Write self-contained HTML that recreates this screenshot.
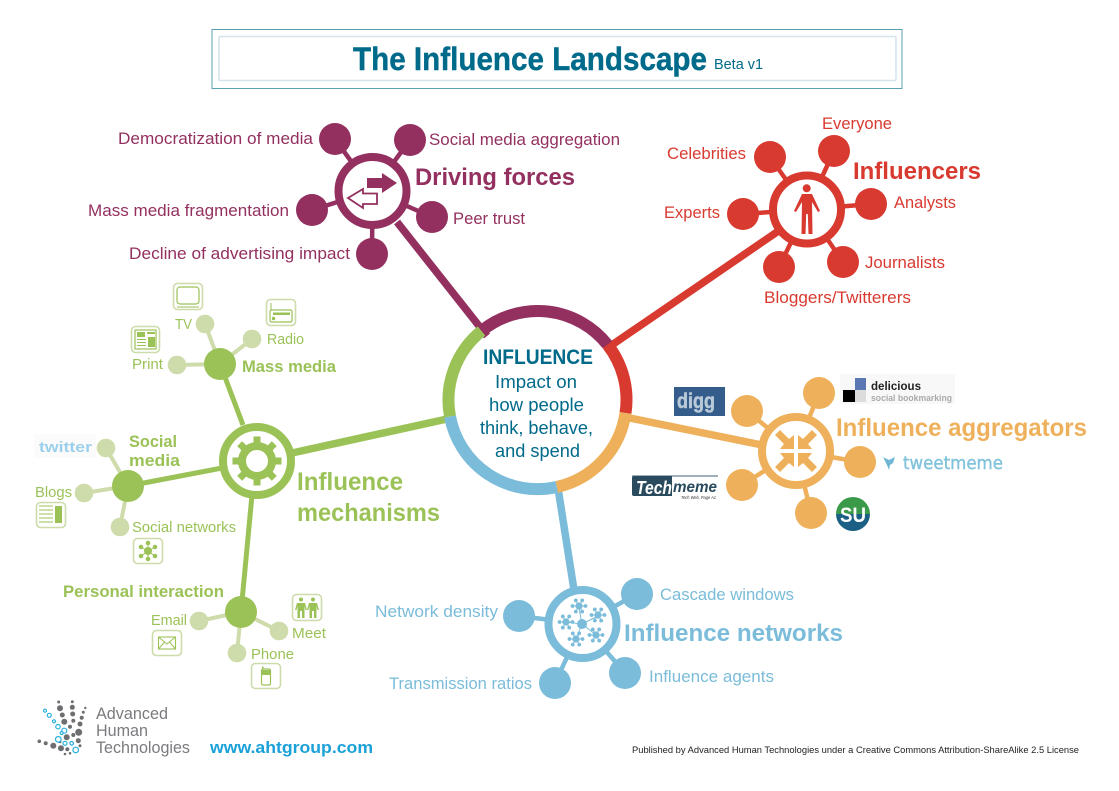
<!DOCTYPE html>
<html><head><meta charset="utf-8"><title>The Influence Landscape</title>
<style>
html,body{margin:0;padding:0;background:#fff}
svg{display:block}
text{font-family:"Liberation Sans",sans-serif;}
.b{font-weight:bold}
.p{fill:#93305f}.r{fill:#d83a30}.o{fill:#eeb05a}.u{fill:#7abcd9}.g{fill:#9bc257}.t{fill:#006a8a}
.ic{fill:#fff;stroke:#cddcaa;stroke-width:1.6}
</style></head><body>
<svg width="1119" height="791" viewBox="0 0 1119 791" xmlns="http://www.w3.org/2000/svg">
<defs>
<g id="cl" fill="#7abcd9"><circle r="3.6"/><circle cx="6.5" r="1.9"/><circle cx="3.2" cy="5.6" r="1.9"/><circle cx="-3.2" cy="5.6" r="1.9"/><circle cx="-6.5" r="1.9"/><circle cx="-3.2" cy="-5.6" r="1.9"/><circle cx="3.2" cy="-5.6" r="1.9"/><path d="M-6 0H6M-3 -5L3 5M3 -5L-3 5" stroke="#7abcd9" stroke-width="1"/></g>
<polygon id="ar" points="-2,-2 -2,-16 -7,-12 -16,-21 -21,-16 -12,-7 -16,-2" fill="#eeb05a"/>
<rect id="tooth" x="-3.5" y="-24.5" width="7" height="8" fill="#9bc257"/>
</defs>

<!-- title frame -->
<rect x="212" y="29.5" width="690" height="59" fill="#fff" stroke="#5b9fb5" stroke-width="1"/>
<rect x="219" y="36.5" width="677" height="44" rx="1" fill="#fff" stroke="#d3e4ec" stroke-width="1.5"/>
<text x="353" y="70" class="b t" font-size="32" stroke="#006a8a" stroke-width="0.4" textLength="354" lengthAdjust="spacingAndGlyphs">The Influence Landscape</text>
<text x="714" y="69" class="t" font-size="14.5" textLength="49" lengthAdjust="spacingAndGlyphs">Beta v1</text>

<!-- connectors -->
<g fill="none" stroke-width="7.5">
<line x1="397" y1="222" x2="487" y2="336" stroke="#93305f"/>
<line x1="777" y1="232" x2="606" y2="349" stroke="#d83a30"/>
<line x1="620" y1="416" x2="762" y2="445" stroke="#eeb05a"/>
<line x1="558" y1="488" x2="574" y2="590" stroke="#7abcd9"/>
<line x1="447" y1="419" x2="292" y2="453" stroke="#9bc257"/>
</g>

<!-- centre ring -->
<g fill="none" stroke-width="12">
<path d="M481.5 331 A89 89 0 0 1 607.5 344.7" stroke="#93305f"/>
<path d="M607.5 344.7 A89 89 0 0 1 625.5 413" stroke="#d83a30"/>
<path d="M625.5 413 A89 89 0 0 1 556.8 487" stroke="#eeb05a"/>
<path d="M556.8 487 A89 89 0 0 1 450 416.5" stroke="#7abcd9"/>
<path d="M450 416.5 A89 89 0 0 1 481.5 331" stroke="#9bc257"/>
</g>
<text x="483" y="364" class="b t" font-size="21" textLength="110" lengthAdjust="spacingAndGlyphs">INFLUENCE</text>
<g class="t" font-size="18">
<text x="495" y="388" class="t" textLength="82" lengthAdjust="spacingAndGlyphs">Impact on</text>
<text x="489" y="411" class="t" textLength="95" lengthAdjust="spacingAndGlyphs">how people</text>
<text x="480" y="434" class="t" textLength="113" lengthAdjust="spacingAndGlyphs">think, behave,</text>
<text x="495" y="457" class="t" textLength="85" lengthAdjust="spacingAndGlyphs">and spend</text>
</g>

<!-- Driving forces -->
<g stroke="#93305f" stroke-width="4.5">
<line x1="372.5" y1="191" x2="335" y2="139"/><line x1="372.5" y1="191" x2="410" y2="140"/><line x1="372.5" y1="191" x2="312" y2="210"/><line x1="372.5" y1="191" x2="432" y2="217"/><line x1="372.5" y1="191" x2="372" y2="254"/>
</g>
<circle cx="372.5" cy="191" r="34" fill="#fff" stroke="#93305f" stroke-width="8"/>
<g fill="#93305f"><circle cx="335" cy="139" r="16"/><circle cx="410" cy="140" r="16"/><circle cx="312" cy="210" r="16"/><circle cx="432" cy="217" r="16"/><circle cx="372" cy="254" r="16"/></g>
<polygon points="367,178 382,178 382,173 397,183 382,193 382,188 367,188" fill="#93305f"/>
<polygon points="348,198 363,189 363,193.5 377,193.5 377,204 363,204 363,208" fill="#fff" stroke="#93305f" stroke-width="1.8"/>
<g class="p" font-size="17">
<text class="p" x="118" y="144" textLength="195" lengthAdjust="spacingAndGlyphs">Democratization of media</text>
<text class="p" x="429" y="145" textLength="191" lengthAdjust="spacingAndGlyphs">Social media aggregation</text>
<text class="p" x="453" y="224" textLength="72" lengthAdjust="spacingAndGlyphs">Peer trust</text>
<text class="p" x="88" y="216" textLength="201" lengthAdjust="spacingAndGlyphs">Mass media fragmentation</text>
<text class="p" x="129" y="259" textLength="221" lengthAdjust="spacingAndGlyphs">Decline of advertising impact</text>
</g>
<text x="415" y="185" class="b p" font-size="24" textLength="160" lengthAdjust="spacingAndGlyphs">Driving forces</text>

<!-- Influencers -->
<g stroke="#d83a30" stroke-width="4.5">
<line x1="807" y1="209.5" x2="770" y2="157"/><line x1="807" y1="209.5" x2="834" y2="151"/><line x1="807" y1="209.5" x2="871" y2="204"/><line x1="807" y1="209.5" x2="843" y2="262"/><line x1="807" y1="209.5" x2="779" y2="267"/><line x1="807" y1="209.5" x2="743" y2="214"/>
</g>
<circle cx="807" cy="209.5" r="34" fill="#fff" stroke="#d83a30" stroke-width="8"/>
<g fill="#d83a30"><circle cx="770" cy="157" r="16"/><circle cx="834" cy="151" r="16"/><circle cx="871" cy="204" r="16"/><circle cx="843" cy="262" r="16"/><circle cx="779" cy="267" r="16"/><circle cx="743" cy="214" r="16"/>
<circle cx="806.7" cy="188.3" r="4"/>
<polygon points="802,194 812,194 820,211 818,212 812,202 812.500,234 808.500,234 807.800,214 806.200,214 805.500,234 801.500,234 802,202 796,212 794,211"/></g>
<g class="r" font-size="17">
<text class="r" x="822" y="129" textLength="70" lengthAdjust="spacingAndGlyphs">Everyone</text>
<text class="r" x="667" y="159" textLength="79" lengthAdjust="spacingAndGlyphs">Celebrities</text>
<text class="r" x="894" y="208" textLength="62" lengthAdjust="spacingAndGlyphs">Analysts</text>
<text class="r" x="664" y="218" textLength="56" lengthAdjust="spacingAndGlyphs">Experts</text>
<text class="r" x="865" y="268" textLength="80" lengthAdjust="spacingAndGlyphs">Journalists</text>
<text class="r" x="764" y="303" textLength="147" lengthAdjust="spacingAndGlyphs">Bloggers/Twitterers</text>
</g>
<text x="853" y="179" class="b r" font-size="24" textLength="128" lengthAdjust="spacingAndGlyphs">Influencers</text>

<!-- Aggregators -->
<g stroke="#eeb05a" stroke-width="4.5">
<line x1="796" y1="451" x2="747" y2="411"/><line x1="796" y1="451" x2="819" y2="393"/><line x1="796" y1="451" x2="860" y2="462"/><line x1="796" y1="451" x2="811" y2="513"/><line x1="796" y1="451" x2="742" y2="485"/>
</g>
<circle cx="796" cy="451" r="34" fill="#fff" stroke="#eeb05a" stroke-width="8"/>
<g fill="#eeb05a"><circle cx="747" cy="411" r="16"/><circle cx="819" cy="393" r="16"/><circle cx="860" cy="462" r="16"/><circle cx="811" cy="513" r="16"/><circle cx="742" cy="485" r="16"/></g>
<use href="#ar" transform="translate(796 451)"/><use href="#ar" transform="translate(796 451) rotate(90)"/><use href="#ar" transform="translate(796 451) rotate(180)"/><use href="#ar" transform="translate(796 451) rotate(270)"/>
<text x="836" y="436" class="b o" font-size="25" textLength="251" lengthAdjust="spacingAndGlyphs">Influence aggregators</text>

<!-- digg -->
<rect x="674" y="387" width="51" height="29" fill="#345d8c"/>
<text x="677" y="408" class="b" font-size="21" fill="#b9c9d8" stroke="#b9c9d8" stroke-width="0.5" textLength="38" lengthAdjust="spacingAndGlyphs">digg</text>
<!-- delicious -->
<rect x="840" y="374" width="115" height="30" fill="#f8f8f8"/>
<rect x="855" y="378" width="11" height="12" fill="#5b78b4"/><rect x="843" y="390" width="12" height="12" fill="#000"/><rect x="855" y="390" width="11" height="12" fill="#dcdcdc"/>
<text x="871" y="390" class="b" font-size="12" fill="#222" textLength="50" lengthAdjust="spacingAndGlyphs">delicious</text>
<text x="871" y="401" class="b" font-size="9.5" fill="#aaa" textLength="81" lengthAdjust="spacingAndGlyphs">social bookmarking</text>
<!-- tweetmeme -->
<path d="M883 457 L889 460 L895 457 L893 463 L890 465 L889 470 L887 465 Z" fill="#6fb6d4"/>
<text x="903" y="469" font-size="18" fill="#82c3dc" stroke="#82c3dc" stroke-width="0.4" textLength="100" lengthAdjust="spacingAndGlyphs" style="font-family:'DejaVu Sans',sans-serif">tweetmeme</text>
<!-- techmeme -->
<rect x="632" y="475" width="86" height="2" fill="#9fb0ba"/>
<path d="M634 476 H672 V496 H634 Q632 496 632 494 V478 Q632 476 634 476Z" fill="#2a4a5e"/>
<text x="636" y="494" class="b" font-size="18" fill="#fff" font-style="italic" textLength="36" lengthAdjust="spacingAndGlyphs">Tech</text>
<text x="673" y="492" class="b" font-size="16" fill="#2a4a5e" font-style="italic" textLength="44" lengthAdjust="spacingAndGlyphs">meme</text>
<text x="681" y="499" font-size="4.5" fill="#333" font-style="italic" textLength="35" lengthAdjust="spacingAndGlyphs">Tech Web, Page A1</text>
<!-- stumbleupon -->
<path d="M836 514 A17 17 0 0 1 870 514 Z" fill="#3a9a4a"/>
<path d="M836 514 A17 17 0 0 0 870 514 Z" fill="#1b5f85"/>
<text x="840" y="522" class="b" font-size="21" fill="#fff" textLength="26" lengthAdjust="spacingAndGlyphs">SU</text>

<!-- Networks -->
<g stroke="#7abcd9" stroke-width="4.5">
<line x1="582.5" y1="624" x2="519" y2="616"/><line x1="582.5" y1="624" x2="637" y2="594"/><line x1="582.5" y1="624" x2="625" y2="673"/><line x1="582.5" y1="624" x2="555" y2="683"/>
</g>
<circle cx="582.5" cy="624" r="34" fill="#fff" stroke="#7abcd9" stroke-width="8"/>
<g fill="#7abcd9"><circle cx="519" cy="616" r="16"/><circle cx="637" cy="594" r="16"/><circle cx="625" cy="673" r="16"/><circle cx="555" cy="683" r="16"/><circle cx="582" cy="624" r="5"/></g>
<path d="M582 624L579 608M582 624L598 616M582 624L596 635M582 624L576 639M582 624L566 622" stroke="#7abcd9" stroke-width="1"/>
<use href="#cl" x="579" y="606"/><use href="#cl" x="598" y="615"/><use href="#cl" x="596" y="635"/><use href="#cl" x="576" y="639"/><use href="#cl" x="566" y="622"/>
<g class="u" font-size="17">
<text class="u" x="660" y="600" textLength="134" lengthAdjust="spacingAndGlyphs">Cascade windows</text>
<text class="u" x="375" y="617" textLength="123" lengthAdjust="spacingAndGlyphs">Network density</text>
<text class="u" x="649" y="682" textLength="125" lengthAdjust="spacingAndGlyphs">Influence agents</text>
<text class="u" x="389" y="689" textLength="143" lengthAdjust="spacingAndGlyphs">Transmission ratios</text>
</g>
<text x="624" y="641" class="b u" font-size="24" textLength="219" lengthAdjust="spacingAndGlyphs">Influence networks</text>

<!-- Mechanisms -->
<g stroke="#9bc257" stroke-width="5">
<line x1="243" y1="425" x2="220" y2="364"/><line x1="222" y1="468" x2="128" y2="486"/><line x1="252" y1="495" x2="241" y2="612"/>
</g>
<g stroke="#cddcaa" stroke-width="4">
<line x1="220" y1="364" x2="205" y2="324"/><line x1="220" y1="364" x2="252" y2="339"/><line x1="220" y1="364" x2="177" y2="365"/>
<line x1="128" y1="486" x2="106" y2="448"/><line x1="128" y1="486" x2="84" y2="493"/><line x1="128" y1="486" x2="120" y2="527"/>
<line x1="241" y1="612" x2="199" y2="621"/><line x1="241" y1="612" x2="279" y2="631"/><line x1="241" y1="612" x2="237" y2="653"/>
</g>
<circle cx="257" cy="461" r="34" fill="#fff" stroke="#9bc257" stroke-width="8"/>
<circle cx="257" cy="461" r="15" fill="none" stroke="#9bc257" stroke-width="8"/>
<g transform="translate(257 461)"><use href="#tooth"/><use href="#tooth" transform="rotate(45)"/><use href="#tooth" transform="rotate(90)"/><use href="#tooth" transform="rotate(135)"/><use href="#tooth" transform="rotate(180)"/><use href="#tooth" transform="rotate(225)"/><use href="#tooth" transform="rotate(270)"/><use href="#tooth" transform="rotate(315)"/></g>
<g fill="#9bc257"><circle cx="220" cy="364" r="16"/><circle cx="128" cy="486" r="16"/><circle cx="241" cy="612" r="16"/></g>
<g fill="#cddcaa"><circle cx="205" cy="324" r="9.3"/><circle cx="252" cy="339" r="9.3"/><circle cx="177" cy="365" r="9.3"/><circle cx="106" cy="448" r="9.3"/><circle cx="84" cy="493" r="9.3"/><circle cx="120" cy="527" r="9.3"/><circle cx="199" cy="621" r="9.3"/><circle cx="279" cy="631" r="9.3"/><circle cx="237" cy="653" r="9.3"/></g>

<text x="297" y="490" class="b g" font-size="25" textLength="106" lengthAdjust="spacingAndGlyphs">Influence</text>
<text x="297" y="521" class="b g" font-size="25" textLength="143" lengthAdjust="spacingAndGlyphs">mechanisms</text>
<g font-size="17">
<text class="b g" x="242" y="372" textLength="94" lengthAdjust="spacingAndGlyphs">Mass media</text>
<text class="b g" x="129" y="447" textLength="48" lengthAdjust="spacingAndGlyphs">Social</text>
<text class="b g" x="129" y="466" textLength="51" lengthAdjust="spacingAndGlyphs">media</text>
<text class="b g" x="63" y="597" textLength="161" lengthAdjust="spacingAndGlyphs">Personal interaction</text>
</g>
<g font-size="14.5">
<text class="g" x="267" y="344" textLength="37" lengthAdjust="spacingAndGlyphs">Radio</text>
<text class="g" x="175" y="329" textLength="17" lengthAdjust="spacingAndGlyphs">TV</text>
<text class="g" x="132" y="369" textLength="31" lengthAdjust="spacingAndGlyphs">Print</text>
<text class="g" x="35" y="497" textLength="37" lengthAdjust="spacingAndGlyphs">Blogs</text>
<text class="g" x="132" y="532" textLength="104" lengthAdjust="spacingAndGlyphs">Social networks</text>
<text class="g" x="151" y="625" textLength="36" lengthAdjust="spacingAndGlyphs">Email</text>
<text class="g" x="292" y="638" textLength="34" lengthAdjust="spacingAndGlyphs">Meet</text>
<text class="g" x="251" y="659" textLength="43" lengthAdjust="spacingAndGlyphs">Phone</text>
</g>
<rect x="34" y="434" width="62" height="24" fill="#fbfbfb"/>
<text x="39" y="452" class="b" font-size="15" fill="#9bcfea" textLength="53" lengthAdjust="spacingAndGlyphs">twitter</text>

<!-- small icons -->
<rect class="ic" x="173.5" y="283.5" width="29" height="26" rx="4"/>
<rect x="177" y="287" width="22" height="17" rx="3" fill="none" stroke="#9bc257" stroke-width="1.2"/><line x1="177" y1="307" x2="199" y2="307" stroke="#9bc257" stroke-width="1"/>
<rect class="ic" x="266.5" y="299.5" width="29" height="26" rx="4"/>
<rect x="270" y="310" width="22" height="12" rx="1.5" fill="none" stroke="#9bc257" stroke-width="1.2"/><rect x="273" y="312.5" width="17" height="2.5" fill="#9bc257"/><circle cx="273.5" cy="318.5" r="1.8" fill="#9bc257"/><line x1="271" y1="310" x2="271" y2="303" stroke="#9bc257" stroke-width="1"/>
<rect class="ic" x="131.5" y="326.5" width="28" height="26" rx="4"/>
<rect x="135" y="330" width="21" height="19" fill="none" stroke="#9bc257" stroke-width="1.2"/><rect x="137" y="332" width="8" height="5" fill="#9bc257"/><rect x="147" y="332" width="8" height="2" fill="#9bc257"/><rect x="148" y="337" width="7" height="10" fill="#9bc257"/><path d="M137 339.5H146M137 342.5H146M137 345.5H146" stroke="#9bc257" stroke-width="1"/>
<rect class="ic" x="36.5" y="502.5" width="29" height="25" rx="4"/>
<path d="M39 506H53M39 510H53M39 514H53M39 518H53M39 522H53" stroke="#9bc257" stroke-width="1"/><rect x="55" y="506" width="7" height="17" fill="#9bc257"/>
<rect class="ic" x="133.5" y="538.5" width="29" height="25" rx="4"/>
<g fill="#9bc257" stroke="#9bc257" stroke-width="1"><path d="M148 551L148 542.500M148 551L155 547M148 551L155 556M148 551L141 547M148 551L141 556M148 551L148 560" fill="none"/><circle cx="148" cy="551" r="3.5"/><circle cx="148" cy="543" r="1.8"/><circle cx="155" cy="547" r="1.8"/><circle cx="155" cy="556" r="1.8"/><circle cx="141" cy="547" r="1.8"/><circle cx="141" cy="556" r="1.8"/><circle cx="148" cy="559" r="1.8"/></g>
<rect class="ic" x="152.500" y="630.5" width="29" height="25" rx="4"/>
<rect x="158.500" y="637" width="17" height="12" fill="none" stroke="#9bc257" stroke-width="1.1"/><path d="M158.500 637L167 644L175.500 637M158.500 649L164.500 642M175.500 649L169.500 642" fill="none" stroke="#9bc257" stroke-width="1"/>
<rect class="ic" x="292.5" y="594.5" width="29" height="26" rx="4"/>
<g fill="#9bc257"><circle cx="301" cy="599.5" r="2"/><path d="M297 603H305L307 610L305.500 610L304.500 606L304.500 618H302V611H300V618H297.500V606L296.500 610L295 610Z"/><circle cx="313" cy="599.5" r="2"/><path d="M309 603H317L319 610L317.500 610L316.500 606L316.500 618H314V611H312V618H309.500V606L308.500 610L307 610Z"/></g>
<rect class="ic" x="251.5" y="663.500" width="29" height="25" rx="4"/>
<rect x="261.500" y="669" width="9" height="16" rx="1.5" fill="none" stroke="#9bc257" stroke-width="1.2"/><rect x="262" y="670" width="8" height="5" fill="#9bc257"/><rect x="262" y="666.500" width="1.5" height="3" fill="#9bc257"/>

<!-- logo -->
<g fill="#6d6e71">
<circle cx="58.700" cy="702" r="1.500"/><circle cx="72.300" cy="701.700" r="1.500"/><circle cx="60" cy="708.300" r="3"/><circle cx="72.300" cy="707.300" r="2.500"/><circle cx="85.300" cy="708" r="1.200"/><circle cx="62.300" cy="715" r="2.500"/><circle cx="72.700" cy="714" r="2.500"/><circle cx="83.300" cy="712.300" r="1.500"/><circle cx="81.700" cy="717.700" r="2"/><circle cx="64.300" cy="721.700" r="3"/><circle cx="73.300" cy="720.700" r="2"/><circle cx="80" cy="724" r="2.500"/><circle cx="78.700" cy="732.300" r="3.500"/><circle cx="70" cy="726.700" r="2"/><circle cx="66.700" cy="737.300" r="3"/><circle cx="73.300" cy="735" r="2"/><circle cx="78.300" cy="740.700" r="2.500"/><circle cx="80" cy="745.700" r="1.500"/><circle cx="53.300" cy="745.700" r="3"/><circle cx="45.700" cy="743.300" r="2"/><circle cx="39.300" cy="741.300" r="1.800"/><circle cx="61" cy="748.300" r="3"/><circle cx="67.300" cy="749.300" r="2"/><circle cx="65" cy="754" r="1.300"/><circle cx="70" cy="753.300" r="1.300"/><circle cx="60" cy="741.700" r="1.500"/>
</g>
<g fill="#fff" stroke="#27b0e0" stroke-width="1.200">
<circle cx="45" cy="710.700" r="1.500"/><circle cx="49.300" cy="715.300" r="2"/><circle cx="54" cy="721.300" r="1.500"/><circle cx="58" cy="726.700" r="2.200"/><circle cx="64.300" cy="730.700" r="2.500"/><circle cx="61.700" cy="733" r="1.500"/><circle cx="58.300" cy="739.300" r="2.800"/><circle cx="65" cy="743.300" r="2"/><circle cx="71.700" cy="743.300" r="1.800"/><circle cx="75.700" cy="750" r="2.800"/>
</g>
<g font-size="17" fill="#7a7b7e">
<text x="96" y="719" textLength="72" lengthAdjust="spacingAndGlyphs">Advanced</text>
<text x="96" y="736" textLength="52" lengthAdjust="spacingAndGlyphs">Human</text>
<text x="96" y="753" textLength="94" lengthAdjust="spacingAndGlyphs">Technologies</text>
</g>
<text x="210" y="753" class="b" font-size="17" fill="#1ba1d9" textLength="163" lengthAdjust="spacingAndGlyphs">www.ahtgroup.com</text>
<text x="632" y="753" font-size="9.5" fill="#222" textLength="447" lengthAdjust="spacingAndGlyphs">Published by Advanced Human Technologies under a Creative Commons Attribution-ShareAlike 2.5 License</text>
</svg>
</body></html>
